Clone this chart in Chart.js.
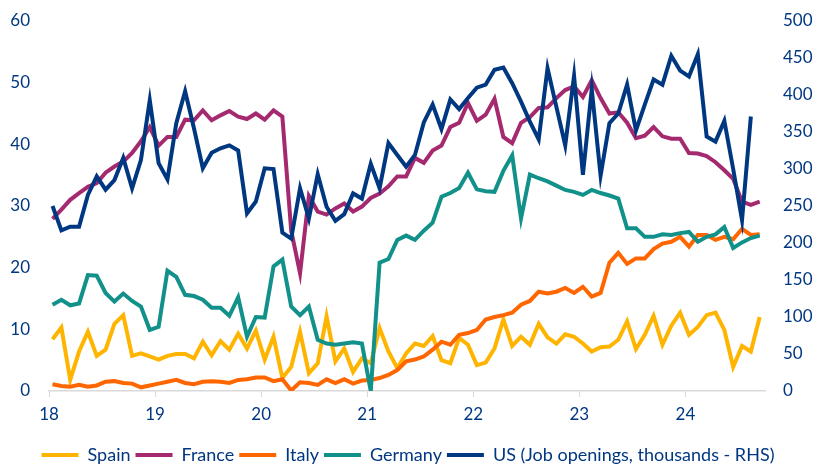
<!DOCTYPE html>
<html>
<head>
<meta charset="utf-8">
<script src="https://cdn.jsdelivr.net/npm/chart.js@4.4.0/dist/chart.umd.min.js"></script>
<style>
  html, body { margin: 0; padding: 0; background: #fff; }
  #wrap { width: 816px; height: 469px; }
</style>
</head>
<body>
<div id="wrap"><canvas id="vacancyChart"></canvas></div>
<script>
// monthly readings, Jan 2018 onwards
const startYear = 18;
const spain = [
  8.4, 10.3, 1.8, 6.4, 9.6, 5.7, 6.7, 10.9, 12.3, 5.7,
  6.1, 5.6, 5.1, 5.7, 6.0, 6.0, 5.3, 8.0, 5.8, 8.1,
  6.7, 9.3, 6.9, 9.8, 5.1, 8.8, 2.1, 3.9, 9.6, 2.9,
  4.5, 12.1, 4.8, 6.9, 3.1, 5.3, 4.5, 10.2, 6.4, 3.7,
  6.1, 7.7, 7.3, 8.9, 5.0, 4.5, 8.6, 7.5, 4.2, 4.6,
  6.9, 11.6, 7.3, 8.8, 7.5, 10.9, 8.7, 7.7, 9.2, 8.8,
  7.7, 6.4, 7.1, 7.2, 8.3, 11.3, 6.8, 9.1, 12.2, 7.5,
  10.6, 12.7, 9.1, 10.4, 12.3, 12.7, 9.9, 3.9, 7.3, 6.4, 12.0
];
const france = [
  27.9, 29.4, 31.0, 32.1, 33.1, 33.7, 35.4, 36.4, 37.2, 38.6,
  40.5, 42.8, 39.8, 41.2, 41.2, 44.0, 43.9, 45.5, 43.9, 44.7,
  45.4, 44.5, 44.1, 45.0, 44.0, 45.5, 44.5, 26.0, 19.1, 31.6,
  29.1, 28.6, 29.6, 30.4, 29.1, 29.9, 31.3, 32.0, 33.2, 34.8,
  34.8, 37.8, 37.0, 39.0, 39.8, 42.8, 43.5, 46.7, 43.8, 44.8,
  47.4, 41.2, 40.2, 43.5, 44.4, 45.9, 46.0, 47.5, 48.8, 49.4,
  47.7, 50.4, 47.5, 45.0, 45.2, 43.5, 41.0, 41.4, 42.8, 41.3,
  40.9, 40.9, 38.6, 38.5, 38.1, 37.1, 35.8, 34.4, 30.7, 30.2, 30.7
];
const italy = [
  1.1, 0.8, 0.7, 1.0, 0.7, 0.9, 1.5, 1.6, 1.3, 1.2,
  0.6, 0.9, 1.2, 1.5, 1.8, 1.3, 1.1, 1.5, 1.6, 1.5,
  1.3, 1.8, 1.9, 2.2, 2.2, 1.6, 1.9, 0.1, 1.4, 1.3,
  1.0, 1.9, 1.3, 1.9, 1.2, 1.7, 1.8, 2.1, 2.6, 3.4,
  4.8, 5.1, 5.6, 6.7, 8.0, 7.5, 9.1, 9.4, 9.9, 11.6,
  12.0, 12.3, 12.7, 14.0, 14.6, 16.1, 15.8, 16.1, 16.7, 15.9,
  16.9, 15.3, 15.9, 20.8, 22.4, 20.6, 21.5, 21.5, 23.0, 23.9,
  24.2, 25.0, 23.4, 25.3, 25.3, 24.5, 25.0, 24.6, 26.3, 25.3, 25.4
];
const germany = [
  14.0, 14.8, 13.9, 14.2, 18.8, 18.7, 15.9, 14.5, 15.8, 14.6,
  13.7, 9.9, 10.4, 19.5, 18.5, 15.6, 15.4, 14.8, 13.5, 13.5,
  12.2, 15.2, 8.8, 12.0, 11.9, 20.2, 21.3, 13.7, 12.3, 13.7,
  8.3, 7.7, 7.5, 7.7, 7.9, 7.7, 0.0, 20.8, 21.4, 24.5,
  25.2, 24.5, 26.0, 27.3, 31.5, 32.1, 32.9, 35.4, 32.7, 32.4,
  32.3, 35.7, 38.2, 28.0, 35.1, 34.5, 34.0, 33.3, 32.6, 32.3,
  31.8, 32.6, 32.1, 31.7, 31.2, 26.4, 26.4, 25.0, 25.0, 25.4,
  25.3, 25.6, 25.8, 24.2, 25.0, 25.4, 26.6, 23.2, 24.1, 24.8, 25.2
];
// US job openings, thousands (right axis), no reading yet for the last month
const usOpenings = [
  250, 217, 222, 222, 265, 290, 272, 285, 315, 274,
  312, 393, 308, 286, 362, 405, 355, 301, 322, 328,
  332, 325, 240, 256, 301, 300, 214, 206, 274, 233,
  293, 249, 230, 239, 267, 260, 307, 274, 335, 319,
  303, 319, 363, 387, 354, 394, 381, 396, 410, 414,
  434, 437, 416, 391, 364, 340, 436, 384, 332, 426,
  292, 408, 291, 362, 375, 414, 352, 387, 421, 414,
  453, 433, 425, 455, 344, 337, 365, 300, 231, 371
];

const xTicks = [18, 19, 20, 21, 22, 23, 24];
const leftTicks = [0, 10, 20, 30, 40, 50, 60];
const rightTicks = [0, 50, 100, 150, 200, 250, 300, 350, 400, 450, 500];

const navy = "#003781";
const axisGrey = "#d9d9d9";
const fontFamily = "Lato, 'Open Sans', sans-serif";

function toPoints(values) {
  return values.map((v, i) => ({ x: startYear + (i + 0.4) / 12, y: v }));
}

function line(label, values, color, axis, order) {
  return {
    label: label,
    data: toPoints(values),
    borderColor: color,
    backgroundColor: color,
    borderWidth: 4,
    pointRadius: 0,
    tension: 0,
    yAxisID: axis,
    order: order,
  };
}

// side axes: fixed width, and no extra top/bottom room from the label padding
function fixSideAxis(width) {
  return (axis) => {
    axis.width = width;
    axis.paddingTop = 0;
    axis.paddingBottom = 0;
  };
}

// keep the legend strip short so it sits near the bottom edge
const legendHeight = {
  id: "legendHeight",
  beforeInit(chart) {
    const fit = chart.legend.fit;
    chart.legend.fit = function () {
      fit.bind(chart.legend)();
      this.height = 28;
    };
  },
};

const ctx = document.getElementById("vacancyChart").getContext("2d");
const vacancyChart = new Chart(ctx, {
  type: "line",
  data: {
    datasets: [
      line("Spain", spain, "#ffb400", "y", 4),
      line("France", france, "#a4296f", "y", 3),
      line("Italy", italy, "#ff6600", "y", 2),
      line("Germany", germany, "#12918a", "y", 1),
      line("US (Job openings, thousands - RHS)", usOpenings, navy, "yR", 0),
    ],
  },
  options: {
    responsive: true,
    maintainAspectRatio: false,
    animation: false,
    devicePixelRatio: 1,
    layout: {
      padding: { left: 0, right: 0, top: 21, bottom: 0 },
    },
    scales: {
      x: {
        type: "linear",
        min: 18,
        max: 24.75,
        afterBuildTicks: (axis) => {
          axis.ticks = xTicks.map((v) => ({ value: v }));
        },
        afterFit: (axis) => {
          axis.height = 50;
        },
        grid: {
          display: true,
          drawOnChartArea: false,
          drawTicks: true,
          tickLength: 6,
          color: axisGrey,
        },
        border: { display: true, color: axisGrey, width: 1.5 },
        ticks: {
          color: navy,
          font: { family: fontFamily, size: 17 },
          padding: 7,
          maxRotation: 0,
          callback: (v) => String(v),
        },
      },
      y: {
        position: "left",
        min: 0,
        max: 60,
        afterBuildTicks: (axis) => {
          axis.ticks = leftTicks.map((v) => ({ value: v }));
        },
        afterFit: fixSideAxis(49),
        grid: { display: false, drawTicks: false },
        border: { display: false },
        ticks: {
          color: navy,
          font: { family: fontFamily, size: 17 },
          padding: 19,
        },
      },
      yR: {
        position: "right",
        min: 0,
        max: 500,
        afterBuildTicks: (axis) => {
          axis.ticks = rightTicks.map((v) => ({ value: v }));
        },
        afterFit: fixSideAxis(51),
        grid: { display: false, drawTicks: false },
        border: { display: false },
        ticks: {
          color: navy,
          font: { family: fontFamily, size: 17 },
          padding: 18,
        },
      },
    },
    plugins: {
      tooltip: { enabled: false },
      legend: {
        position: "bottom",
        labels: {
          color: navy,
          font: { family: fontFamily, size: 18 },
          boxWidth: 37,
          boxHeight: 4,
          padding: 5,
          sort: (a, b) => a.datasetIndex - b.datasetIndex,
          generateLabels: (chart) =>
            Chart.defaults.plugins.legend.labels
              .generateLabels(chart)
              .map((item) => Object.assign(item, { lineWidth: 0 })),
        },
      },
    },
  },
  plugins: [legendHeight],
});
</script>
</body>
</html>
